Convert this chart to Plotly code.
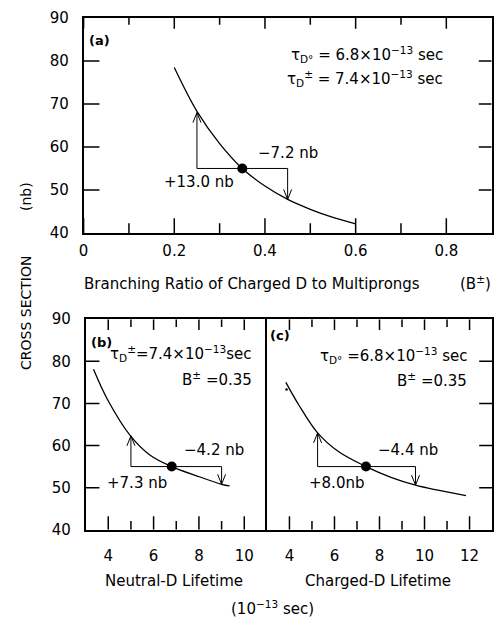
import plotly.graph_objects as go

# (a) cross section vs branching ratio of charged D to multiprongs
a_branching = [0.20, 0.25, 0.30, 0.35, 0.40, 0.45, 0.50, 0.55, 0.60]
a_sigma = [78.5, 68.3, 60.8, 55.0, 50.9, 47.8, 45.5, 43.6, 42.1]
a_center = (0.35, 55.0)
a_low_x, a_high_x = 0.25, 0.45
a_plus, a_minus = 13.0, 7.2

# (b) cross section vs neutral-D lifetime (1e-13 s)
b_tau = [3.35, 3.96, 4.98, 5.85, 6.8, 7.9, 9.0, 9.35]
b_sigma = [78.1, 71.0, 62.3, 57.7, 55.0, 52.8, 50.8, 50.4]
b_center = (6.8, 55.0)
b_low_x, b_high_x = 5.0, 9.0
b_plus, b_minus = 7.3, 4.2

# (c) cross section vs charged-D lifetime (1e-13 s)
c_tau = [3.84, 4.43, 5.25, 6.19, 7.4, 8.54, 9.6, 10.6, 11.84]
c_sigma = [75.0, 69.5, 63.0, 58.5, 55.0, 52.4, 50.6, 49.4, 48.1]
c_center = (7.4, 55.0)
c_low_x, c_high_x = 5.25, 9.6
c_plus, c_minus = 8.0, 4.4
c_speck = (3.87, 73.3)

# tick positions
a_major = [0.0, 0.2, 0.4, 0.6, 0.8]
a_minor = [0.1, 0.3, 0.5, 0.7]
b_major = [4, 6, 8, 10]
b_minor = [5, 7, 9]
c_major = [4, 6, 8, 10, 12]
c_minor = [5, 7, 9, 11]
sigma_ticks = [50, 60, 70, 80]

W, H = 498, 632
FONT = "DejaVu Sans"
INK = "black"

# panel frames in pixels: (left, right, top, bottom) and axis ranges
A_FRAME, A_XR = (79.4, 491.6, 9.3, 230.5), (0.0, 0.9)
B_FRAME, B_XR = (81.4, 264.6, 319.3, 536.0), (3.0, 11.0)
C_FRAME, C_XR = (264.6, 492.0, 319.3, 536.0), (3.0, 13.0)
Y_RANGE = (40.0, 90.0)

fig = go.Figure()

panels = [
    ("x", "y", a_branching, a_sigma, a_center, a_low_x, a_high_x, a_plus, a_minus),
    ("x2", "y2", b_tau, b_sigma, b_center, b_low_x, b_high_x, b_plus, b_minus),
    ("x3", "y3", c_tau, c_sigma, c_center, c_low_x, c_high_x, c_plus, c_minus),
]

for xa, ya, xs, ys, ctr, lo, hi, plus, minus in panels:
    # model curve
    fig.add_trace(go.Scatter(x=xs, y=ys, mode="lines", xaxis=xa, yaxis=ya,
                             line=dict(color=INK, width=1.3, shape="spline", smoothing=1.0),
                             showlegend=False, hoverinfo="skip"))
    # bracket: up-arrow stem, horizontal, down-arrow stem
    up_tip = ctr[1] + plus
    down_tip = ctr[1] - minus
    fig.add_trace(go.Scatter(x=[lo, lo, hi, hi], y=[up_tip, ctr[1], ctr[1], down_tip],
                             mode="lines", xaxis=xa, yaxis=ya,
                             line=dict(color=INK, width=1.0),
                             showlegend=False, hoverinfo="skip"))
    # central value
    fig.add_trace(go.Scatter(x=[ctr[0]], y=[ctr[1]], mode="markers", xaxis=xa, yaxis=ya,
                             marker=dict(color=INK, size=10),
                             showlegend=False, hoverinfo="skip"))
    # open V arrowheads at the tips
    for xv, yv, path in [(lo, up_tip, "M-4,-10L0,0L4,-10"),
                         (hi, down_tip, "M-4,10L0,0L4,10")]:
        fig.add_shape(type="path", xref=xa, yref=ya,
                      xsizemode="pixel", ysizemode="pixel",
                      xanchor=xv, yanchor=yv, path=path,
                      line=dict(color=INK, width=1.0))

fig.add_trace(go.Scatter(x=[c_speck[0]], y=[c_speck[1]], mode="markers", xaxis="x3", yaxis="y3",
                         marker=dict(color=INK, size=2.5), showlegend=False, hoverinfo="skip"))


def tick_marks(xa, ya, frame, xr, xmajor, xminor, yticks, lens):
    """Inward tick marks drawn as one line trace per panel.

    lens = (x major bottom, x major top, x minor bottom, x minor top, y left, y right) in px;
    a length of 0 leaves that edge without ticks.
    """
    left, right, top, bottom = frame
    x_per_px = (xr[1] - xr[0]) / (right - left)
    y_per_px = (Y_RANGE[1] - Y_RANGE[0]) / (bottom - top)
    mb, mt, nb, nt, yl, yr = lens
    xs, ys = [], []
    for vals, lb, lt in [(xmajor, mb, mt), (xminor, nb, nt)]:
        for v in vals:
            xs += [v, v, None, v, v, None]
            ys += [Y_RANGE[0], Y_RANGE[0] + lb * y_per_px, None,
                   Y_RANGE[1], Y_RANGE[1] - lt * y_per_px, None]
    for v in yticks:
        if yl:
            xs += [xr[0], xr[0] + yl * x_per_px, None]
            ys += [v, v, None]
        if yr:
            xs += [xr[1], xr[1] - yr * x_per_px, None]
            ys += [v, v, None]
    fig.add_trace(go.Scatter(x=xs, y=ys, mode="lines", xaxis=xa, yaxis=ya,
                             line=dict(color=INK, width=1.5), connectgaps=False,
                             showlegend=False, hoverinfo="skip"))


tick_marks("x", "y", A_FRAME, A_XR, a_major, a_minor, sigma_ticks, (15, 11, 10, 7, 16, 13))
tick_marks("x2", "y2", B_FRAME, B_XR, b_major, b_minor, sigma_ticks, (14, 11, 9, 8, 14, 0))
tick_marks("x3", "y3", C_FRAME, C_XR, c_major, c_minor, sigma_ticks, (14, 11, 9, 8, 0, 13))

tickfont = dict(family=FONT, size=15, color=INK)
base = dict(showline=True, linecolor=INK, linewidth=1.5, ticks="",
            showgrid=False, zeroline=False, tickfont=tickfont)

def px_x(p):
    return p / W

def px_y(p):
    return 1 - p / H

def dom_x(frame):
    return [px_x(frame[0]), px_x(frame[1])]

def dom_y(frame):
    return [px_y(frame[3]), px_y(frame[2])]

fig.update_layout(
    width=W, height=H,
    margin=dict(l=0, r=0, t=0, b=0),
    paper_bgcolor="white", plot_bgcolor="white",
    font=dict(family=FONT, color=INK, size=15),
    xaxis=dict(base, domain=dom_x(A_FRAME), range=list(A_XR), anchor="y",
               tickvals=a_major, mirror=True, ticklabelstandoff=3),
    yaxis=dict(base, domain=dom_y(A_FRAME), range=list(Y_RANGE), anchor="x",
               dtick=10, mirror=True, ticklabelstandoff=10),
    xaxis2=dict(base, domain=dom_x(B_FRAME), range=list(B_XR), anchor="y2",
                tickvals=b_major, mirror=True, ticklabelstandoff=12),
    yaxis2=dict(base, domain=dom_y(B_FRAME), range=list(Y_RANGE), anchor="x2",
                dtick=10, mirror=False, ticklabelstandoff=10),
    xaxis3=dict(base, domain=dom_x(C_FRAME), range=list(C_XR), anchor="y3",
                tickvals=c_major, mirror=True, ticklabelstandoff=12),
    yaxis3=dict(base, domain=dom_y(C_FRAME), range=list(Y_RANGE), anchor="x3", side="right",
                dtick=10, mirror=True, showticklabels=False),
)

ann = []

def note(text, x, y, xref, yref, xanchor="center", size=15):
    ann.append(dict(text=text, x=x, y=y, xref=xref, yref=yref, xanchor=xanchor,
                    yanchor="middle", showarrow=False,
                    font=dict(family=FONT, size=size, color=INK)))

# panel (a)
note("<b>(a)</b>", 0.008, 84.7, "x", "y", "left", 13)
note("τ<sub>D°</sub> = 6.8×10<sup>−13</sup> sec", 0.798, 81.5, "x", "y", "right")
note("τ<sub>D</sub><sup>±</sup> = 7.4×10<sup>−13</sup> sec", 0.798, 76.0, "x", "y", "right")
note("−7.2 nb", 0.451, 58.7, "x", "y")
note("+13.0 nb", 0.2535, 51.9, "x", "y")

# panel (b)
note("<b>(b)</b>", 3.16, 84.5, "x2", "y2", "left", 13)
note("τ<sub>D</sub><sup>±</sup>=7.4×10<sup>−13</sup>sec", 10.45, 81.8, "x2", "y2", "right")
note("B<sup>±</sup> =0.35", 10.45, 75.9, "x2", "y2", "right")
note("−4.2 nb", 8.68, 59.0, "x2", "y2")
note("+7.3 nb", 5.28, 51.2, "x2", "y2")

# panel (c)
note("<b>(c)</b>", 3.06, 86.1, "x3", "y3", "left", 13)
note("τ<sub>D°</sub> =6.8×10<sup>−13</sup> sec", 11.99, 81.3, "x3", "y3", "right")
note("B<sup>±</sup> =0.35", 11.99, 75.6, "x3", "y3", "right")
note("−4.4 nb", 9.28, 59.0, "x3", "y3")
note("+8.0nb", 6.1, 51.1, "x3", "y3")

# axis titles
note("Branching Ratio of Charged D to Multiprongs", px_x(249), px_y(283), "paper", "paper")
note("(B<sup>±</sup>)", px_x(475), px_y(282), "paper", "paper")
note("Neutral-D Lifetime", px_x(171), px_y(589), "paper", "paper")
note("Charged-D Lifetime", px_x(377), px_y(589), "paper", "paper")
note("(10<sup>−13</sup> sec)", px_x(270), px_y(617), "paper", "paper")
ann.append(dict(text="CROSS SECTION" + "\u00a0" * 10 + "(nb)", x=px_x(21), y=px_y(275),
                xref="paper", yref="paper", showarrow=False, textangle=-90,
                xanchor="center", yanchor="middle",
                font=dict(family=FONT, size=14, color=INK)))

fig.update_layout(annotations=ann)

fig.write_html("out.html")
